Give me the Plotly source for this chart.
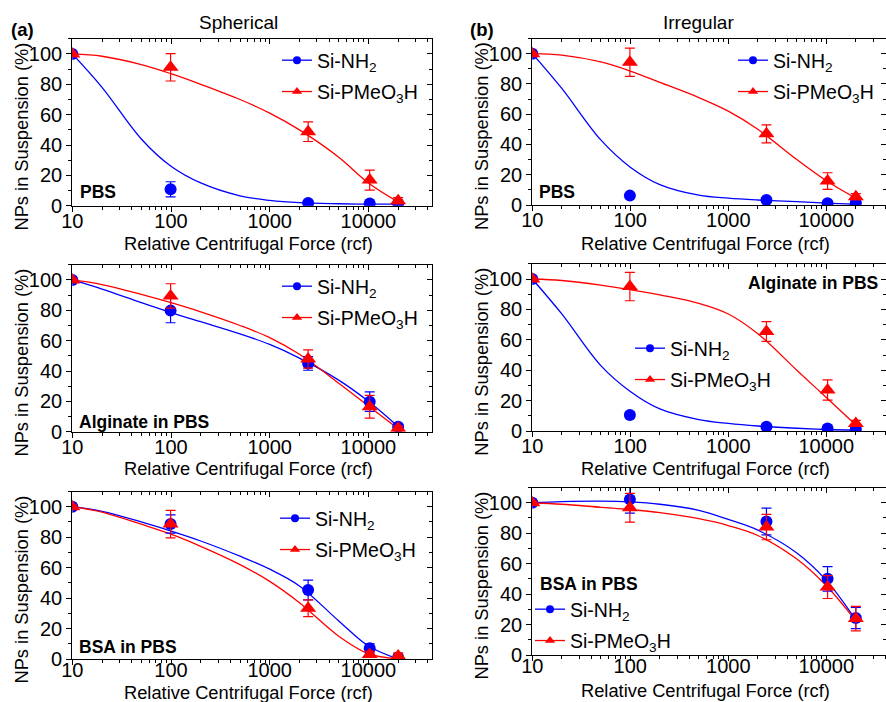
import plotly.graph_objects as go

W, H = 886, 702

# ---------------- data ----------------
rcf = [10, 99, 2450, 10300, 20000]

sph_pbs_nh2 = [100, 10.8, 1.8, 1.5, 1.5]
sph_pbs_nh2_err = [0.8, 5, 1.5, 1.2, 1]
sph_pbs_pme = [100, 91.2, 48.8, 16.9, 3.3]
sph_pbs_pme_err = [0.8, 9, 6.5, 6.6, 2]

irr_pbs_nh2 = [100, 6.2, 3.3, 1.1, 1.5]
irr_pbs_nh2_err = [0.8, 1.5, 1.5, 0.8, 0.8]
irr_pbs_pme = [100, 94.3, 47, 15.8, 5.5]
irr_pbs_pme_err = [0.8, 9.3, 6, 5.5, 2]

sph_alg_nh2 = [100, 79.8, 45, 19.8, 3.3]
sph_alg_nh2_err = [1, 8, 4.5, 6.4, 1.5]
sph_alg_pme = [100, 89.5, 47.9, 16.5, 2.2]
sph_alg_pme_err = [1, 8, 6, 7.5, 1.5]

irr_alg_nh2 = [100, 10.5, 2.8, 1.7, 1.3]
irr_alg_nh2_err = [0.8, 2, 1.5, 1, 0.8]
irr_alg_pme = [100, 95, 65.4, 27, 5]
irr_alg_pme_err = [1, 9.3, 6.5, 6.7, 2]

sph_bsa_nh2 = [100, 88.6, 45.3, 7, 1]
sph_bsa_nh2_err = [1, 6, 6.5, 3, 1]
sph_bsa_pme = [100, 88.6, 33.3, 3, 2]
sph_bsa_pme_err = [1, 9, 5.5, 2, 2]

irr_bsa_nh2 = [100, 102.2, 87.7, 50, 24.3]
irr_bsa_nh2_err = [1, 9, 8.8, 8, 7]
irr_bsa_pme = [100, 96.7, 84, 44.6, 23.9]
irr_bsa_pme_err = [1, 9.5, 8.3, 7.5, 8]

# fitted curves
fit_x = [10, 20, 50, 100, 200, 500, 1000, 2000, 5000, 10000, 20000]
fit_sph_pbs_nh2 = [100, 78, 44, 26, 15, 6.5, 3.5, 2, 1.3, 1, 1]
fit_sph_pbs_pme = [100, 98.5, 93, 87, 80, 70, 61, 50, 32, 15, 2.5]
fit_irr_pbs_nh2 = [100, 77, 43, 25, 13.5, 6.5, 4.5, 3.3, 2.2, 1.2, 0.5]
fit_irr_pbs_pme = [100, 99, 94.5, 88.5, 81, 71, 62, 50, 30, 16, 4.5]
fit_sph_alg_nh2 = [100, 94, 85, 78.5, 72.5, 64.5, 57.5, 48.5, 34, 20, 3.3]
fit_sph_alg_pme = [100, 97, 90.5, 85, 79, 70, 62, 51, 32, 17, 2]
fit_irr_alg_nh2 = [100, 77, 43, 26, 14.5, 7.5, 5, 3.3, 1.8, 1, 0.5]
fit_irr_alg_pme = [100, 99, 96, 93, 89.5, 84, 77, 64, 40, 22, 4]
fit_sph_bsa_nh2 = [100, 97, 90, 84, 77.5, 67.5, 59, 48, 25, 8.5, 0]
fit_sph_bsa_pme = [100, 96.5, 88.5, 82, 74, 62, 51, 37, 15, 3.5, 0]
fit_irr_bsa_nh2 = [100, 100.7, 101, 100.5, 99, 95, 89, 82, 67, 49, 23]
fit_irr_bsa_pme = [100, 99, 97, 95.5, 93.5, 89.5, 85, 78.5, 63, 45.5, 22.5]

series_names = ["Si-NH<sub>2</sub>", "Si-PMeO<sub>3</sub>H"]
column_titles = ["Spherical", "Irregular"]
panel_letters = ["(a)", "(b)"]
medium_labels = ["PBS", "PBS", "Alginate in PBS", "Alginate in PBS", "BSA in PBS", "BSA in PBS"]
x_title = "Relative Centrifugal Force (rcf)"
y_title = "NPs in Suspension (%)"
y_ticks = [0, 20, 40, 60, 80, 100]
x_ticks = [10, 100, 1000, 10000]
x_ticktext = ["10", "100", "1000", "10000"]

BLUE = "#0000FF"
RED = "#FF0000"
FONT = "Liberation Sans, Arial, sans-serif"

panels = [
    (sph_pbs_nh2, sph_pbs_nh2_err, sph_pbs_pme, sph_pbs_pme_err, fit_sph_pbs_nh2, fit_sph_pbs_pme),
    (irr_pbs_nh2, irr_pbs_nh2_err, irr_pbs_pme, irr_pbs_pme_err, fit_irr_pbs_nh2, fit_irr_pbs_pme),
    (sph_alg_nh2, sph_alg_nh2_err, sph_alg_pme, sph_alg_pme_err, fit_sph_alg_nh2, fit_sph_alg_pme),
    (irr_alg_nh2, irr_alg_nh2_err, irr_alg_pme, irr_alg_pme_err, fit_irr_alg_nh2, fit_irr_alg_pme),
    (sph_bsa_nh2, sph_bsa_nh2_err, sph_bsa_pme, sph_bsa_pme_err, fit_sph_bsa_nh2, fit_sph_bsa_pme),
    (irr_bsa_nh2, irr_bsa_nh2_err, irr_bsa_pme, irr_bsa_pme_err, fit_irr_bsa_nh2, fit_irr_bsa_pme),
]

# ---------------- layout geometry (pixels) ----------------
def px(x):
    return x / W

def py(y):
    return 1 - y / H

col_x = [(72.3, 432.0), (532.3, 886.0)]
x_ranges = [[1, 4.644], [1, 4.609]]
row_y = [[(38.8, 205.7), (38.5, 205.0)],
         [(264.8, 431.7), (263.8, 431.0)],
         [(491.5, 659.0), (487.5, 655.0)]]
# vertical centre of each x-axis title (pixels from top)
x_title_y = [[243, 243], [468, 468], [692, 690]]
x_label_standoff = [-8, -8, -12]

# legend anchor (left, top) and label placement per panel
legend_pos = [(277, 41), (733, 41), (277, 267), (630, 329), (275, 499), (530, 590)]
label_pos = [(78, 192, "left"), (537, 192, "left"), (77, 422, "left"),
             (880, 283, "right"), (77, 647, "left"), (538, 584, "left")]

fig = go.Figure()
layout = dict(
    width=W, height=H, autosize=False,
    margin=dict(l=0, r=0, t=0, b=0, pad=0, autoexpand=False),
    paper_bgcolor="white", plot_bgcolor="white",
    font=dict(family=FONT, size=19, color="black"),
    annotations=[],
)

YR = [0, 110]
TICKFONT = dict(size=20, family=FONT, color="black")

for i, (nh2, nh2e, pme, pmee, fnh2, fpme) in enumerate(panels):
    r, c = divmod(i, 2)
    n = i + 1
    xa, ya = f"x{n}", f"y{n}"
    xt, yt = f"x{n + 6}", f"y{n + 6}"
    lg = "legend" if n == 1 else f"legend{n}"
    x0, x1 = col_x[c]
    XR = x_ranges[c]
    ytop, ybot = row_y[r][c]
    xdom = [px(x0), px(x1)]
    ydom = [py(ybot), py(ytop)]

    common = dict(showline=True, linecolor="black", linewidth=1.3, automargin=False,
                  showgrid=False, zeroline=False, tickcolor="black", tickwidth=1.2)
    layout[f"xaxis{n}"] = dict(domain=xdom, anchor=ya, type="log", range=XR,
                               ticks="outside", ticklen=5, ticklabelstandoff=x_label_standoff[r],
                               tickvals=x_ticks, ticktext=x_ticktext,
                               tickfont=TICKFONT,
                               minor=dict(ticks="outside", ticklen=3, dtick="D1",
                                          tickcolor="black", tickwidth=1, showgrid=False),
                               **common)
    layout[f"yaxis{n}"] = dict(domain=ydom, anchor=xa, range=YR,
                               ticks="outside", ticklen=5,
                               tickvals=y_ticks, tickfont=TICKFONT,
                               minor=dict(ticks="outside", ticklen=3, dtick=10,
                                          tickcolor="black", tickwidth=1, showgrid=False),
                               **common)
    # mirrored top / right axes with inward ticks
    layout[f"xaxis{n + 6}"] = dict(overlaying=xa, anchor=ya, side="top", type="log",
                                   range=XR, ticks="inside", ticklen=5,
                                   tickvals=x_ticks, showticklabels=False,
                                   minor=dict(ticks="inside", ticklen=3, dtick="D1",
                                              tickcolor="black", tickwidth=1, showgrid=False),
                                   **common)
    layout[f"yaxis{n + 6}"] = dict(overlaying=ya, anchor=xa, side="right", range=YR,
                                   ticks="inside", ticklen=5, tickvals=y_ticks,
                                   showticklabels=False,
                                   minor=dict(ticks="inside", ticklen=3, dtick=10,
                                              tickcolor="black", tickwidth=1, showgrid=False),
                                   **common)
    fig.add_trace(go.Scatter(x=[None], y=[None], xaxis=xt, yaxis=ya, showlegend=False,
                             hoverinfo="skip"))
    fig.add_trace(go.Scatter(x=[None], y=[None], xaxis=xa, yaxis=yt, showlegend=False,
                             hoverinfo="skip"))

    # fitted curves
    fig.add_trace(go.Scatter(x=fit_x, y=fnh2, mode="lines",
                             line=dict(color=BLUE, width=1.3, shape="spline", smoothing=1.0),
                             xaxis=xa, yaxis=ya, showlegend=False))
    fig.add_trace(go.Scatter(x=fit_x, y=fpme, mode="lines",
                             line=dict(color=RED, width=1.3, shape="spline", smoothing=1.0),
                             xaxis=xa, yaxis=ya, showlegend=False))
    # data points
    fig.add_trace(go.Scatter(x=rcf, y=nh2, mode="markers",
                             marker=dict(symbol="circle", size=12, color=BLUE),
                             error_y=dict(type="data", array=nh2e, color=BLUE, thickness=1.2, width=5),
                             xaxis=xa, yaxis=ya, showlegend=False))
    fig.add_trace(go.Scatter(x=rcf, y=pme, mode="markers",
                             marker=dict(symbol="triangle-up", size=14, color=RED),
                             error_y=dict(type="data", array=pmee, color=RED, thickness=1.2, width=5),
                             xaxis=xa, yaxis=ya, showlegend=False))
    # legend entries
    fig.add_trace(go.Scatter(x=[None], y=[None], mode="lines+markers", name=series_names[0],
                             line=dict(color=BLUE, width=1.3),
                             marker=dict(symbol="circle", size=8, color=BLUE),
                             legendgroup=f"a{n}",
                             xaxis=xa, yaxis=ya, legend=lg, showlegend=True))
    fig.add_trace(go.Scatter(x=[None], y=[None], mode="lines+markers", name=series_names[1],
                             line=dict(color=RED, width=1.3),
                             marker=dict(symbol="triangle-up", size=9, color=RED),
                             legendgroup=f"b{n}",
                             xaxis=xa, yaxis=ya, legend=lg, showlegend=True))
    lx, ly = legend_pos[i]
    layout[lg] = dict(x=px(lx), y=py(ly), xanchor="left", yanchor="top",
                      xref="paper", yref="paper",
                      bgcolor="rgba(0,0,0,0)", borderwidth=0,
                      font=dict(size=19.5, family=FONT, color="black"),
                      itemwidth=30, tracegroupgap=3, traceorder="grouped")

    # medium label
    tx, ty, al = label_pos[i]
    layout["annotations"].append(dict(text=f"<b>{medium_labels[i]}</b>", x=px(tx), y=py(ty),
                                      xref="paper", yref="paper", xanchor=al, yanchor="middle",
                                      showarrow=False, font=dict(size=17.5, family=FONT)))
    # x title
    layout["annotations"].append(dict(text=x_title, x=px((x0 + x1) / 2 - 4), y=py(x_title_y[r][c]),
                                      xref="paper", yref="paper", xanchor="center", yanchor="middle",
                                      borderpad=0,
                                      showarrow=False, font=dict(size=18.3, family=FONT)))
    # y title
    layout["annotations"].append(dict(text=y_title, x=px(x0 - 51), y=py((ytop + ybot) / 2 + 14),
                                      xref="paper", yref="paper", xanchor="center", yanchor="middle",
                                      textangle=-90, showarrow=False, font=dict(size=18.3, family=FONT)))

# column titles and panel letters
title_pos = [(239, 22), (698, 22)]
letter_pos = [(22, 29), (482, 29)]
for c in range(2):
    layout["annotations"].append(dict(text=column_titles[c], x=px(title_pos[c][0]), y=py(title_pos[c][1]),
                                      xref="paper", yref="paper", xanchor="center", yanchor="middle",
                                      showarrow=False, font=dict(size=19, family=FONT)))
    layout["annotations"].append(dict(text=f"<b>{panel_letters[c]}</b>", x=px(letter_pos[c][0]),
                                      y=py(letter_pos[c][1]), xref="paper", yref="paper",
                                      xanchor="center", yanchor="middle",
                                      showarrow=False, font=dict(size=18.5, family=FONT)))

fig.update_layout(**layout)
fig.write_html("out.html",
               config={"displayModeBar": False},
               post_script="document.body.style.margin='0';document.body.style.overflow='hidden';")
